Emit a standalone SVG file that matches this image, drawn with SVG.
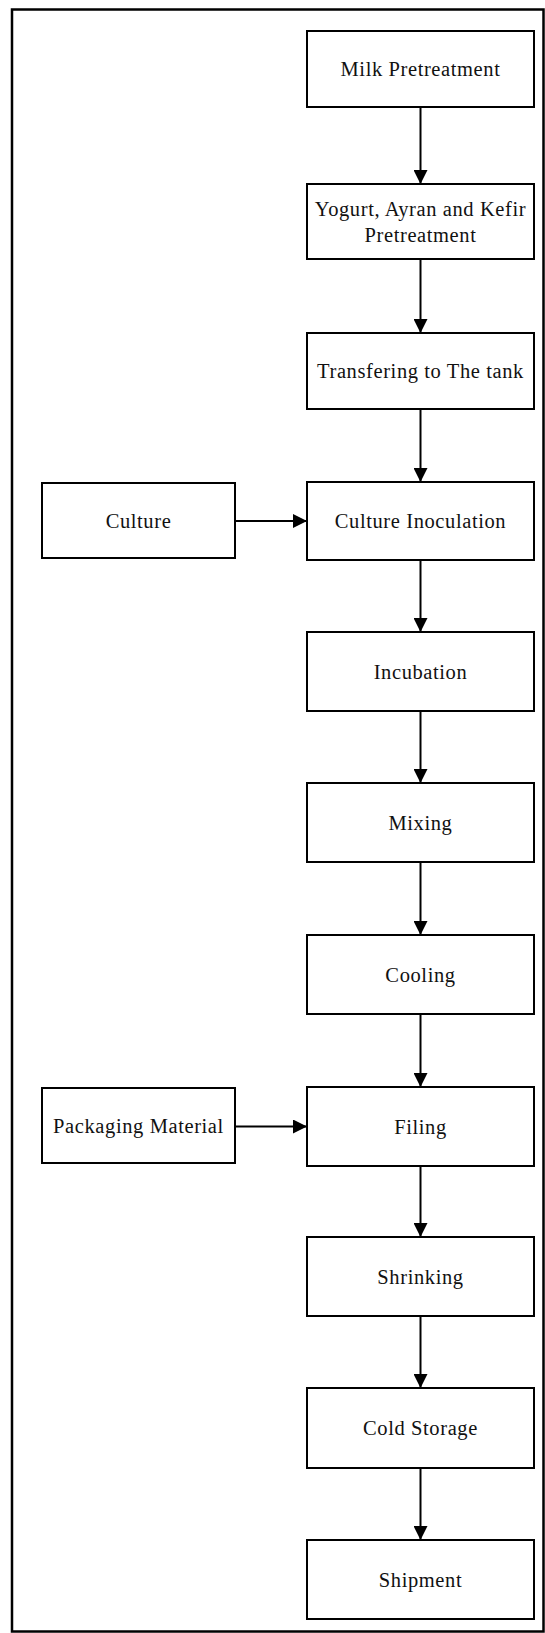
<svg xmlns="http://www.w3.org/2000/svg" width="545" height="1633" viewBox="0 0 545 1633">
<style>
.box{fill:#fff;stroke:#000;stroke-width:2}
.t{font-family:"Liberation Serif","Times New Roman",serif;font-size:20.5px;letter-spacing:0.6px;fill:#111;text-anchor:middle;dominant-baseline:central}
.c{stroke:#000;stroke-width:2;fill:none;marker-end:url(#ah)}
</style>
<defs>
<marker id="ah" markerUnits="userSpaceOnUse" markerWidth="14" markerHeight="14" refX="14" refY="7" orient="auto">
<path d="M0,0 L14,7 L0,14 Z" fill="#000"/>
</marker>
</defs>
<rect width="545" height="1633" fill="#fff"/>
<rect x="12" y="9.5" width="531.5" height="1622" fill="none" stroke="#000" stroke-width="2.5"/>
<g id="n1"><rect class="box" x="307" y="31" width="227" height="76"/><text class="t" x="420.5" y="69">Milk Pretreatment</text></g>
<g id="n2"><rect class="box" x="307" y="184" width="227" height="75"/><text class="t" x="420.5" y="208.5">Yogurt, Ayran and Kefir</text><text class="t" x="420.5" y="234.5">Pretreatment</text></g>
<g id="n3"><rect class="box" x="307" y="333" width="227" height="76"/><text class="t" x="420.5" y="371">Transfering to The tank</text></g>
<g id="n4"><rect class="box" x="307" y="482" width="227" height="78"/><text class="t" x="420.5" y="521">Culture Inoculation</text></g>
<g id="n5"><rect class="box" x="307" y="632" width="227" height="79"/><text class="t" x="420.5" y="671.5">Incubation</text></g>
<g id="n6"><rect class="box" x="307" y="783" width="227" height="79"/><text class="t" x="420.5" y="822.5">Mixing</text></g>
<g id="n7"><rect class="box" x="307" y="935" width="227" height="79"/><text class="t" x="420.5" y="974.5">Cooling</text></g>
<g id="n8"><rect class="box" x="307" y="1087" width="227" height="79"/><text class="t" x="420.5" y="1126.5">Filing</text></g>
<g id="n9"><rect class="box" x="307" y="1237" width="227" height="79"/><text class="t" x="420.5" y="1276.5">Shrinking</text></g>
<g id="n10"><rect class="box" x="307" y="1388" width="227" height="80"/><text class="t" x="420.5" y="1428">Cold Storage</text></g>
<g id="n11"><rect class="box" x="307" y="1540" width="227" height="79"/><text class="t" x="420.5" y="1579.5">Shipment</text></g>
<g id="n12"><rect class="box" x="42" y="483" width="193" height="75"/><text class="t" x="138.5" y="520.5">Culture</text></g>
<g id="n13"><rect class="box" x="42" y="1088" width="193" height="75"/><text class="t" x="138.5" y="1125.5">Packaging Material</text></g>
<g id="connectors">
<line class="c" x1="420.5" y1="107" x2="420.5" y2="184"/>
<line class="c" x1="420.5" y1="259" x2="420.5" y2="333"/>
<line class="c" x1="420.5" y1="409" x2="420.5" y2="482"/>
<line class="c" x1="420.5" y1="560" x2="420.5" y2="632"/>
<line class="c" x1="420.5" y1="711" x2="420.5" y2="783"/>
<line class="c" x1="420.5" y1="862" x2="420.5" y2="935"/>
<line class="c" x1="420.5" y1="1014" x2="420.5" y2="1087"/>
<line class="c" x1="420.5" y1="1166" x2="420.5" y2="1237"/>
<line class="c" x1="420.5" y1="1316" x2="420.5" y2="1388"/>
<line class="c" x1="420.5" y1="1468" x2="420.5" y2="1540"/>
<line class="c" x1="235" y1="521" x2="307" y2="521"/>
<line class="c" x1="235" y1="1126.5" x2="307" y2="1126.5"/>
</g>
</svg>
